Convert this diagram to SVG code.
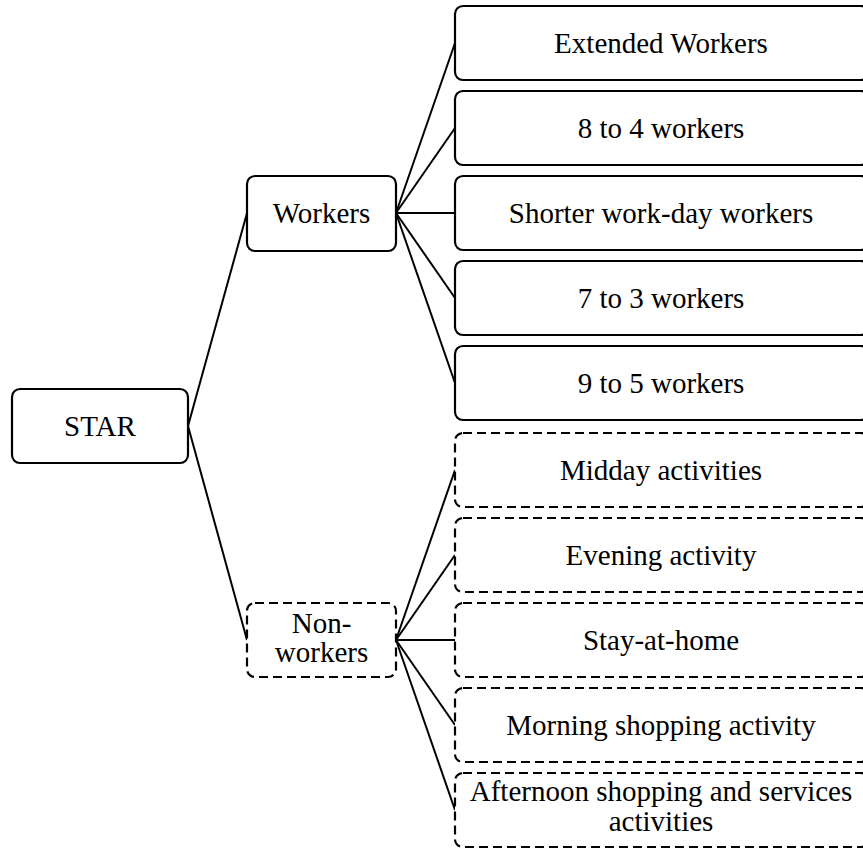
<svg xmlns="http://www.w3.org/2000/svg" width="863" height="849" viewBox="0 0 863 849">
<style>
.box{fill:#fff;stroke:#000;stroke-width:2.2}
.dash{stroke-dasharray:9 5}
.t{font-family:"Liberation Serif","Times New Roman",serif;font-size:29px;fill:#000;text-anchor:middle}
.c line{stroke:#000;stroke-width:2}
</style>
<rect width="863" height="849" fill="#fff"/>
<g class="c" id="connectors">
<line x1="188" y1="426" x2="247" y2="213"/>
<line x1="188" y1="426" x2="247" y2="640"/>
<line x1="396" y1="213" x2="455" y2="43"/>
<line x1="396" y1="213" x2="455" y2="128"/>
<line x1="396" y1="213" x2="455" y2="213"/>
<line x1="396" y1="213" x2="455" y2="298"/>
<line x1="396" y1="213" x2="455" y2="383"/>
<line x1="396" y1="640" x2="455" y2="470"/>
<line x1="396" y1="640" x2="455" y2="555"/>
<line x1="396" y1="640" x2="455" y2="640"/>
<line x1="396" y1="640" x2="455" y2="725"/>
<line x1="396" y1="640" x2="455" y2="810"/>
</g>
<g id="star"><rect class="box" x="12" y="389" width="176" height="74" rx="8"/><text class="t" x="100" y="436">STAR</text></g>
<g id="workers"><rect class="box" x="247" y="176" width="149" height="75" rx="8"/><text class="t" x="321.5" y="223">Workers</text></g>
<g id="nonworkers"><rect class="box dash" x="247" y="603" width="149" height="74" rx="8"/><text class="t" x="321.5" y="633">Non-</text><text class="t" x="321.5" y="662">workers</text></g>
<g id="extended"><rect class="box" x="455" y="6" width="414" height="74" rx="8"/><text class="t" x="661" y="53">Extended Workers</text></g>
<g id="w84"><rect class="box" x="455" y="91" width="414" height="74" rx="8"/><text class="t" x="661" y="138">8 to 4 workers</text></g>
<g id="shorter"><rect class="box" x="455" y="176" width="414" height="74" rx="8"/><text class="t" x="661" y="223">Shorter work-day workers</text></g>
<g id="w73"><rect class="box" x="455" y="261" width="414" height="74" rx="8"/><text class="t" x="661" y="308">7 to 3 workers</text></g>
<g id="w95"><rect class="box" x="455" y="346" width="414" height="74" rx="8"/><text class="t" x="661" y="393">9 to 5 workers</text></g>
<g id="midday"><rect class="box dash" x="455" y="433" width="414" height="74" rx="8"/><text class="t" x="661" y="480">Midday activities</text></g>
<g id="evening"><rect class="box dash" x="455" y="518" width="414" height="74" rx="8"/><text class="t" x="661" y="565">Evening activity</text></g>
<g id="stay"><rect class="box dash" x="455" y="603" width="414" height="74" rx="8"/><text class="t" x="661" y="650">Stay-at-home</text></g>
<g id="morning"><rect class="box dash" x="455" y="688" width="414" height="74" rx="8"/><text class="t" x="661" y="735">Morning shopping activity</text></g>
<g id="afternoon"><rect class="box dash" x="455" y="773" width="414" height="74" rx="8"/><text class="t" x="661" y="801">Afternoon shopping and services</text><text class="t" x="661" y="831">activities</text></g>
</svg>
